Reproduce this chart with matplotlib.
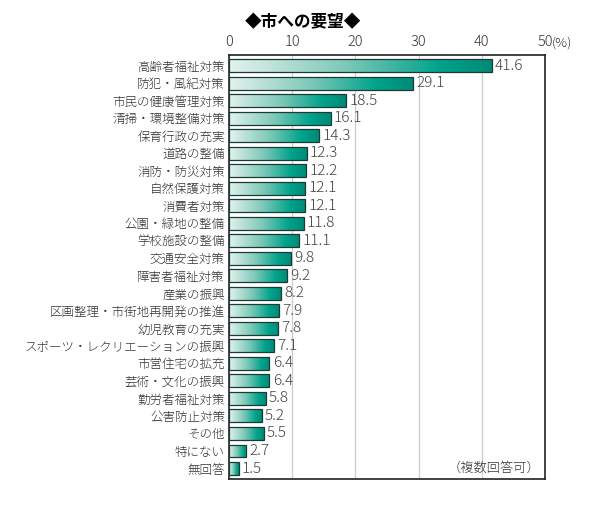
import matplotlib
matplotlib.use("Agg")
import matplotlib.pyplot as plt
import numpy as np
from matplotlib.colors import LinearSegmentedColormap
from matplotlib.patches import Rectangle
from matplotlib.transforms import offset_copy

plt.rcParams['font.family'] = ['Noto Sans CJK JP', 'DejaVu Sans']
plt.rcParams['font.weight'] = 'light'

labels = ["高齢者福祉対策", "防犯・風紀対策", "市民の健康管理対策", "清掃・環境整備対策",
          "保育行政の充実", "道路の整備", "消防・防災対策", "自然保護対策", "消費者対策",
          "公園・緑地の整備", "学校施設の整備", "交通安全対策", "障害者福祉対策", "産業の振興",
          "区画整理・市街地再開発の推進", "幼児教育の充実", "スポーツ・レクリエーションの振興",
          "市営住宅の拡充", "芸術・文化の振興", "勤労者福祉対策", "公害防止対策", "その他",
          "特にない", "無回答"]
values = [41.6, 29.1, 18.5, 16.1, 14.3, 12.3, 12.2, 12.1, 12.1, 11.8, 11.1, 9.8, 9.2,
          8.2, 7.9, 7.8, 7.1, 6.4, 6.4, 5.8, 5.2, 5.5, 2.7, 1.5]
xticks = [0, 10, 20, 30, 40, 50]

cmap = LinearSegmentedColormap.from_list(
    "teal", [(0, "#e4f2ee"), (0.45, "#7cc8b8"), (0.8, "#00a38c"), (1, "#008a76")])
grad = np.linspace(0, 1, 256).reshape(1, -1)

fig = plt.figure(figsize=(6, 5.14), dpi=100)
ax = fig.add_axes([0.3817, 0.068, 0.5267, 0.825])

n = len(labels)
ypos = np.arange(n)
h = 0.74
for y, v in zip(ypos, values):
    rect = Rectangle((0, y - h / 2), v, h, facecolor="none", edgecolor="#1c3a34",
                     linewidth=0.9, zorder=3)
    ax.add_patch(rect)
    im = ax.imshow(grad, cmap=cmap, aspect="auto", extent=(0, v, y + h / 2, y - h / 2),
                   zorder=2, interpolation="bilinear")
    im.set_clip_path(rect)
    ax.text(v + 0.5, y, f"{v}", va="center", ha="left", fontsize=11, color="#444444", zorder=4)

ax.set_xlim(0, 50)
ax.set_ylim(n - 0.4, -0.6)
ax.set_yticks(ypos)
ax.set_yticklabels(labels, fontsize=9, color="#333333")
ax.xaxis.tick_top()
ax.set_xticks(xticks)
ax.set_xticklabels([str(t) for t in xticks], fontsize=10.5, color="#333333")
ax.tick_params(length=0, pad=3)
ax.tick_params(axis="x", pad=4)
for t in xticks[1:-1]:
    ax.axvline(t, color="#cccccc", linewidth=0.9, zorder=1)
for s in ax.spines.values():
    s.set_linewidth(1.2)
    s.set_color("#222222")

tr = offset_copy(ax.get_xaxis_transform(), fig=fig, x=0, y=4, units="points")
ax.text(51.1, 1.0, "(%)", transform=tr, fontsize=9.5, color="#333333", ha="left", va="bottom")
ax.text(49.3, n - 1, "（複数回答可）", fontsize=9.5, color="#333333", ha="right", va="center")
fig.text(0.408, 0.957, "◆市への要望◆", fontsize=12, fontweight="bold", ha="left", va="center")

fig.savefig("out.png", dpi=100)
